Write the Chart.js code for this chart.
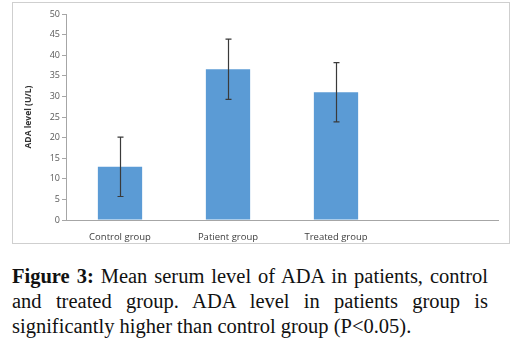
<!DOCTYPE html>
<html>
<head>
<meta charset="utf-8">
<script src="https://cdn.jsdelivr.net/npm/chart.js@4"></script>
<style>
    body { margin: 0; background: #fff; width: 527px; height: 344px; position: relative; overflow: hidden; }
    #frame { position: absolute; left: 12px; top: 2px; width: 496px; height: 240px; border: 1.5px solid #cfcfcf; }
    #wrap { position: absolute; left: 13px; top: 3px; width: 496px; height: 240px; }
    #caption {
        position: absolute; left: 12px; top: 264px; width: 476px;
        font-family: "Liberation Serif", "Times New Roman", serif; font-size: 20.5px; line-height: 25px;
        text-align: justify; color: #111;
    }
</style>
</head>
<body>
<div id="frame"></div>
<div id="wrap"><canvas id="adaChart"></canvas></div>
<div id="caption"><b>Figure 3:</b> Mean serum level of ADA in patients, control and treated group. ADA level in patients group is significantly higher than control group (P&lt;0.05).</div>
<script>
    // Values
    const groups = ["Control group", "Patient group", "Treated group", ""];
    const meanLevel = [12.9, 36.6, 31.0, null];
    const sdLevel = [7.2, 7.3, 7.2, null];
    const yTicks = [0, 5, 10, 15, 20, 25, 30, 35, 40, 45, 50];

    // Draw +/- SD whiskers on each bar
    const errorBars = {
        id: "errorBars",
        afterDatasetsDraw(chart) {
            const { ctx, scales } = chart;
            const meta = chart.getDatasetMeta(0);
            ctx.save();
            ctx.strokeStyle = "#3a3a3a";
            ctx.lineWidth = 1.2;
            meta.data.forEach((bar, i) => {
                if (meanLevel[i] == null) return;
                const x = Math.round(bar.x) + 0.5;
                const top = scales.y.getPixelForValue(meanLevel[i] + sdLevel[i]);
                const bottom = scales.y.getPixelForValue(meanLevel[i] - sdLevel[i]);
                ctx.beginPath();
                ctx.moveTo(x, top);
                ctx.lineTo(x, bottom);
                ctx.moveTo(x - 3, top);
                ctx.lineTo(x + 3, top);
                ctx.moveTo(x - 3, bottom);
                ctx.lineTo(x + 3, bottom);
                ctx.stroke();
            });
            ctx.restore();
        },
    };

    new Chart(document.getElementById("adaChart"), {
        type: "bar",
        data: {
            labels: groups,
            datasets: [{
                data: meanLevel,
                backgroundColor: "#5b9bd5",
                borderWidth: 0,
                categoryPercentage: 1,
                barPercentage: 0.41,
            }],
        },
        options: {
            responsive: true,
            maintainAspectRatio: false,
            animation: false,
            layout: { padding: { top: 11, right: 11, left: 0, bottom: 0 } },
            plugins: { legend: { display: false }, tooltip: { enabled: false } },
            scales: {
                x: {
                    grid: { display: false },
                    border: { color: "#a6a6a6", width: 1 },
                    ticks: { color: "#404040", font: { family: "Open Sans", size: 9.5 }, padding: 4, maxRotation: 0 },
                    afterFit: (scale) => { scale.height = 23; },
                },
                y: {
                    min: 0,
                    max: 50,
                    afterBuildTicks: (scale) => { scale.ticks = yTicks.map((v) => ({ value: v })); },
                    grid: { drawOnChartArea: false, tickLength: 4, color: "#a6a6a6" },
                    border: { color: "#a6a6a6", width: 1 },
                    ticks: { color: "#595959", font: { family: "Open Sans", size: 9 }, padding: 2 },
                    title: {
                        display: true,
                        text: "ADA level (U/L)",
                        color: "#333",
                        font: { family: "Open Sans", size: 8.5, weight: "bold" },
                        padding: { top: 10, bottom: 2 },
                    },
                    afterFit: (scale) => { scale.width = 53; },
                },
            },
        },
        plugins: [errorBars],
    });
</script>
</body>
</html>
